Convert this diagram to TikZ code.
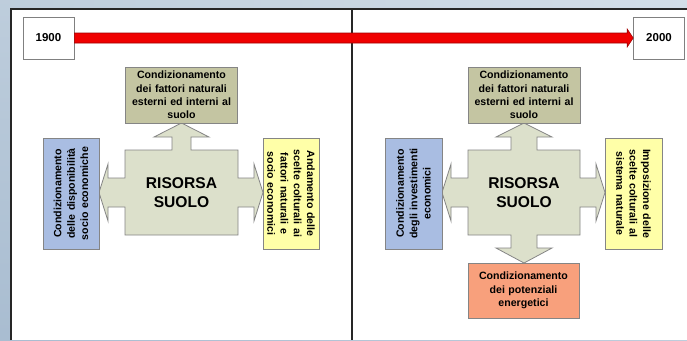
\documentclass[tikz,border=0pt]{standalone}
\usepackage{fontspec}
\setmainfont{Liberation Sans}
\usetikzlibrary{calc}
\definecolor{bgA}{HTML}{A9BDD1}
\definecolor{bgB}{HTML}{D3DEE8}
\definecolor{olivebox}{HTML}{C4C5A2}
\definecolor{crossfill}{HTML}{DCE0CB}
\definecolor{bluebox}{HTML}{A9BDE2}
\definecolor{yellowbox}{HTML}{FFFFA8}
\definecolor{orangebox}{HTML}{F8A07C}
\definecolor{edgegray}{HTML}{858585}
\definecolor{arrowred}{HTML}{F00000}
\definecolor{arrowdark}{HTML}{A00000}
\tikzset{
  x=1pt, y=-1pt,
  txt/.style={font=\bfseries\fontsize{10.6}{13.3}\selectfont, align=center, inner sep=0pt},
  infobox/.style={txt, draw=edgegray, line width=0.8pt, minimum width=#1},
  yearbox/.style={draw=gray, line width=0.6pt, fill=white, minimum width=51pt, minimum height=42pt,
    font=\bfseries\fontsize{11.5}{13}\selectfont, inner sep=0pt},
  crossstyle/.style={fill=crossfill, draw=edgegray, line width=0.8pt, line join=miter},
  big/.style={font=\bfseries\fontsize{15.6}{19}\selectfont, align=center, inner sep=0pt}
}
\begin{document}
\begin{tikzpicture}
% background
\shade[left color=bgA, right color=bgB] (0,0) rectangle (687,340);
\shade[top color=bgB, bottom color=bgA, opacity=0.5] (0,0) rectangle (687,340);
\useasboundingbox (0,0) rectangle (687,340);
% white panel
\fill[white] (11,9) rectangle (687,340);
\draw[line width=1.6pt, black!85] (11,340) -- (11,9) -- (687,9);
\draw[line width=1.4pt, black!85] (352,9) -- (352,340);

% year boxes
\node[yearbox] (y1900) at (48.5,38) {1900};
\node[yearbox] (y2000) at (659,38) {2000};
% red timeline arrow
\coordinate (rs) at (y1900.east);
\coordinate (re) at ($(y2000.west)+(0,0)$);
\filldraw[fill=arrowred, draw=arrowdark, line width=0.6pt, line join=miter]
  ($(rs)+(0,-5)$) -- ($(re)+(-6,-5)$) -- ($(re)+(-6,-9)$) -- (re)
  -- ($(re)+(-6,9)$) -- ($(re)+(-6,5)$) -- ($(rs)+(0,5)$) -- cycle;

% ===== left diagram =====
% cross shape
\filldraw[crossstyle]
  (125,150) -- (172,150) -- (172,137) -- (154,137) -- (181.5,123) -- (209,137) -- (191,137) -- (191,150)
  -- (238,150) -- (238,178) -- (254,178) -- (254,164) -- (263,192.5) -- (254,221) -- (254,207) -- (238,207)
  -- (238,235) -- (125,235) -- (125,207) -- (108,207) -- (108,221) -- (99,192.5) -- (108,164) -- (108,178)
  -- (125,178) -- cycle;
\node[big] (rsL) at (181.5,192.5) {RISORSA\\SUOLO};
\node[infobox=112pt, fill=olivebox, minimum height=56pt, text width=110pt] (topL) at (181.5,95)
  {Condizionamento\\dei fattori naturali\\esterni ed interni al\\suolo};
\node[infobox=111pt, fill=bluebox, minimum height=56pt, text width=108pt, rotate=90] (leftL) at (71,193.5)
  {Condizionamento\\delle disponibilità\\socio economiche};
\node[infobox=111pt, fill=yellowbox, minimum height=56pt, text width=108pt, rotate=-90] (rightL) at (291,193.5)
  {Andamento delle\\scelte colturali ai\\fattori naturali e\\socio economici};

% ===== right diagram =====
\filldraw[crossstyle]
  (468,150) -- (511,150) -- (511,137) -- (496,137) -- (524,123) -- (552,137) -- (537,137) -- (537,150)
  -- (580,150) -- (580,178) -- (596,178) -- (596,164) -- (605,192.5) -- (596,221) -- (596,207) -- (580,207)
  -- (580,235) -- (537,235) -- (537,248) -- (552,248) -- (524,263) -- (496,248) -- (511,248) -- (511,235)
  -- (468,235) -- (468,207) -- (451,207) -- (451,221) -- (442,192.5) -- (451,164) -- (451,178)
  -- (468,178) -- cycle;
\node[big] (rsR) at (524,192.5) {RISORSA\\SUOLO};
\node[infobox=112pt, fill=olivebox, minimum height=56pt, text width=110pt] (topR) at (524,95)
  {Condizionamento\\dei fattori naturali\\esterni ed interni al\\suolo};
\node[infobox=111pt, fill=bluebox, minimum height=57pt, text width=108pt, rotate=90] (leftR) at (413.5,193.5)
  {Condizionamento\\degli investimenti\\economici};
\node[infobox=111pt, fill=yellowbox, minimum height=57pt, text width=108pt, rotate=-90] (rightR) at (633.5,193.5)
  {Imposizione delle\\scelte colturali al\\sistema naturale};
\node[infobox=111pt, fill=orangebox, minimum height=55pt, text width=110pt] (botR) at (523.5,290.5)
  {Condizionamento\\dei potenziali\\energetici};
\end{tikzpicture}
\end{document}
